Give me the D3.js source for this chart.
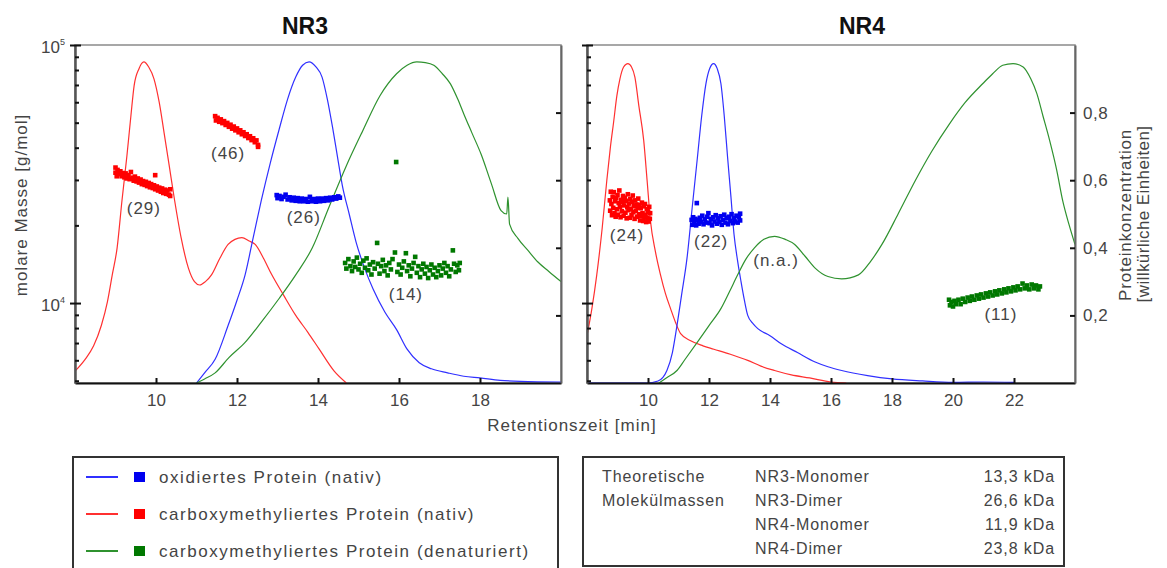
<!DOCTYPE html>
<html>
<head>
<meta charset="utf-8">
<script src="https://cdn.jsdelivr.net/npm/d3@7"></script>
<style>
  body { margin: 0; background: #fff; }
  text { font-family: "Liberation Sans", Arial, sans-serif; }
</style>
</head>
<body>
<script>
// concentration traces [time (min), relative conc.]
let nr3Red = [[8.0,0.035],[8.25,0.07],[8.46,0.11],[8.65,0.17],[8.8,0.24],[8.92,0.32],[9.04,0.40],[9.16,0.54],[9.28,0.67],[9.38,0.79],[9.46,0.88],[9.58,0.93],[9.7,0.95],[9.82,0.935],[9.95,0.90],[10.08,0.83],[10.2,0.74],[10.33,0.64],[10.46,0.54],[10.62,0.43],[10.8,0.34],[10.95,0.30],[11.08,0.29],[11.22,0.30],[11.37,0.32],[11.58,0.37],[11.78,0.41],[11.95,0.425],[12.12,0.43],[12.3,0.42],[12.45,0.41],[12.65,0.37],[12.86,0.32],[13.15,0.26],[13.45,0.20],[13.75,0.15],[14.03,0.10],[14.4,0.035],[14.7,0.0]];
let nr3Blue = [[11.0,0.0],[11.2,0.03],[11.46,0.07],[11.78,0.17],[12.0,0.245],[12.2,0.32],[12.4,0.43],[12.6,0.54],[12.82,0.65],[13.04,0.75],[13.25,0.84],[13.45,0.905],[13.62,0.94],[13.78,0.95],[13.95,0.935],[14.1,0.905],[14.23,0.84],[14.36,0.756],[14.48,0.67],[14.6,0.585],[14.77,0.5],[14.94,0.417],[15.15,0.34],[15.36,0.278],[15.65,0.21],[15.94,0.158],[16.2,0.1],[16.5,0.06],[16.8,0.042],[17.2,0.03],[17.6,0.02],[18.0,0.015],[18.5,0.008],[19.0,0.005],[20.0,0.003]];
let nr3Green = [[11.0,0.0],[11.2,0.012],[11.46,0.03],[11.8,0.075],[12.2,0.12],[12.6,0.18],[13.04,0.25],[13.45,0.32],[13.86,0.40],[14.27,0.52],[14.69,0.64],[15.1,0.745],[15.53,0.85],[15.94,0.915],[16.2,0.94],[16.44,0.95],[16.65,0.948],[16.86,0.94],[17.07,0.915],[17.27,0.885],[17.45,0.84],[17.6,0.796],[17.8,0.74],[18.03,0.676],[18.28,0.59],[18.52,0.51],[18.66,0.50],[18.69,0.55],[18.73,0.47],[18.94,0.427],[19.2,0.39],[19.43,0.358],[19.7,0.33],[20.0,0.30]];

let nr4Red = [[8.0,0.14],[8.16,0.22],[8.32,0.32],[8.5,0.46],[8.65,0.60],[8.77,0.70],[8.87,0.77],[8.98,0.85],[9.08,0.90],[9.2,0.935],[9.34,0.945],[9.46,0.935],[9.57,0.905],[9.7,0.82],[9.86,0.717],[9.97,0.60],[10.08,0.48],[10.24,0.39],[10.41,0.32],[10.57,0.265],[10.74,0.22],[10.9,0.18],[11.07,0.146],[11.4,0.125],[11.8,0.11],[12.16,0.10],[12.7,0.085],[13.27,0.067],[13.7,0.05],[14.15,0.037],[14.7,0.024],[15.3,0.015],[16.0,0.003],[16.5,0.0]];
let nr4Blue = [[8.0,0.0],[9.95,0.0],[10.33,0.006],[10.62,0.037],[10.8,0.09],[10.95,0.17],[11.1,0.26],[11.28,0.37],[11.45,0.52],[11.62,0.667],[11.76,0.79],[11.9,0.886],[12.02,0.93],[12.15,0.945],[12.27,0.93],[12.39,0.886],[12.5,0.79],[12.61,0.667],[12.72,0.55],[12.82,0.44],[12.94,0.36],[13.05,0.30],[13.16,0.245],[13.27,0.20],[13.45,0.175],[13.6,0.161],[14.0,0.14],[14.37,0.116],[14.9,0.09],[15.48,0.062],[15.9,0.048],[16.35,0.037],[17.2,0.022],[18.0,0.012],[19.0,0.006],[20.0,0.002],[21.0,0.003],[22.0,0.002]];
let nr4Green = [[10.36,0.0],[10.6,0.015],[10.95,0.037],[11.2,0.068],[11.62,0.121],[12.0,0.17],[12.39,0.22],[12.67,0.27],[12.94,0.32],[13.2,0.365],[13.49,0.40],[13.8,0.425],[14.15,0.434],[14.5,0.425],[14.81,0.41],[15.15,0.375],[15.48,0.34],[15.9,0.315],[16.35,0.308],[16.9,0.32],[17.3,0.36],[17.67,0.41],[18.2,0.50],[18.77,0.60],[19.3,0.685],[19.88,0.766],[20.4,0.83],[20.98,0.886],[21.3,0.915],[21.63,0.94],[21.97,0.945],[22.3,0.935],[22.55,0.9],[22.75,0.856],[22.95,0.79],[23.17,0.717],[23.4,0.63],[23.6,0.538],[23.8,0.47],[24.0,0.41]];

// molar mass points [time (min), g/mol]
let nr3RedA = [[9.00,33500],[9.00,32000],[9.03,31000],[9.05,32800],[9.08,31600],[9.12,32400],[9.15,31000],[9.18,31900],[9.22,30700],[9.25,31800],[9.28,30400],[9.32,31300],[9.35,30200],[9.38,32200],[9.42,30600],[9.45,29800],[9.48,30900],[9.52,29600],[9.55,30400],[9.58,29300],[9.62,30100],[9.65,28900],[9.68,29700],[9.72,28700],[9.75,29500],[9.78,28400],[9.82,29200],[9.85,28100],[9.88,28900],[9.92,27900],[9.95,28600],[9.98,31300],[9.98,27600],[10.02,28300],[10.05,27300],[10.08,28000],[10.12,27000],[10.15,27800],[10.18,26700],[10.22,27500],[10.25,26500],[10.28,27300],[10.32,26300],[10.35,27600],[10.35,26000]];
let nr3RedB = [[11.46,53000],[11.48,51000],[11.52,52200],[11.56,50400],[11.60,51500],[11.64,49800],[11.68,50700],[11.72,49000],[11.76,49900],[11.80,48200],[11.84,49100],[11.88,47400],[11.92,48300],[11.96,46700],[12.00,47500],[12.04,45900],[12.08,46700],[12.12,45100],[12.16,45900],[12.20,44400],[12.24,45100],[12.28,43600],[12.32,44300],[12.36,42800],[12.40,43500],[12.44,42000],[12.48,42700],[12.52,41000],[12.52,40300]];
let nr3BlueM = [[12.98,26200],[13.00,25500],[13.05,26000],[13.10,25300],[13.15,25800],[13.20,26300],[13.25,25200],[13.30,25700],[13.35,25000],[13.40,25600],[13.45,24900],[13.50,25500],[13.55,24800],[13.60,25400],[13.65,24800],[13.70,25300],[13.75,24700],[13.80,25800],[13.85,24800],[13.90,25300],[13.95,24700],[14.00,25400],[14.05,24800],[14.10,25400],[14.15,24900],[14.20,25500],[14.25,25000],[14.30,25600],[14.35,25200],[14.40,25700],[14.45,25400],[14.50,25900],[14.54,25600]];
let nr3GreenM = [[14.67,14300],[14.70,13600],[14.75,14800],[14.80,13900],[14.84,13300],[14.88,14500],[14.92,13800],[14.96,15000],[15.00,13500],[15.04,14200],[15.08,13100],[15.12,14600],[15.16,13700],[15.20,14900],[15.24,13400],[15.28,14100],[15.32,12900],[15.36,14400],[15.40,13600],[15.46,17100],[15.48,14200],[15.52,13000],[15.56,13900],[15.60,14700],[15.64,13300],[15.68,14000],[15.72,12800],[15.76,14300],[15.80,13500],[15.84,14800],[15.90,15700],[15.93,35200],[15.96,13200],[16.00,14100],[16.04,12900],[16.08,13700],[16.12,14500],[16.17,15600],[16.20,13300],[16.24,14000],[16.28,12700],[16.32,13600],[16.36,14300],[16.40,15100],[16.44,13100],[16.48,13900],[16.52,12600],[16.56,13500],[16.60,14200],[16.64,13000],[16.68,13800],[16.72,12500],[16.76,13400],[16.80,14100],[16.84,12900],[16.88,13700],[16.92,12600],[16.96,13300],[17.00,14000],[17.04,12800],[17.08,13600],[17.12,14300],[17.16,13100],[17.20,13900],[17.24,12700],[17.28,13500],[17.33,16000],[17.36,14200],[17.40,13200],[17.44,14000],[17.48,13400],[17.50,14300]];

let nr4RedM = [[8.75,25000],[8.76,22800],[8.78,27000],[8.80,24200],[8.82,21900],[8.84,25800],[8.86,23400],[8.88,26900],[8.90,22300],[8.92,24800],[8.94,21600],[8.96,25500],[8.98,23100],[9.00,26200],[9.02,22000],[9.04,24400],[9.06,27300],[9.08,23600],[9.10,21500],[9.12,25100],[9.14,22700],[9.16,24600],[9.18,26000],[9.20,21800],[9.22,23900],[9.24,25600],[9.26,22400],[9.28,24900],[9.30,21300],[9.32,23500],[9.34,26400],[9.36,22900],[9.38,24300],[9.40,21400],[9.42,25300],[9.44,23200],[9.46,21900],[9.48,24700],[9.50,26100],[9.52,22500],[9.54,23800],[9.56,21200],[9.58,25000],[9.60,22800],[9.62,24100],[9.64,21600],[9.66,23400],[9.68,25400],[9.70,22100],[9.72,24000],[9.74,20900],[9.76,23300],[9.78,21800],[9.80,24500],[9.82,22300],[9.84,20800],[9.86,23700],[9.88,21500],[9.90,24200],[9.92,22000],[9.94,20600],[9.96,23100],[9.98,21400],[10.00,22600],[10.02,20700],[10.04,23600],[10.06,21200],[10.07,22300]];
let nr4BlueM = [[11.43,21000],[11.45,20100],[11.48,21500],[11.52,20500],[11.55,21200],[11.58,20000],[11.60,24400],[11.62,21000],[11.66,20300],[11.70,21400],[11.74,20600],[11.78,21800],[11.82,20200],[11.86,21100],[11.90,20500],[11.94,21600],[11.98,22300],[12.02,20400],[12.06,21200],[12.10,20000],[12.14,21500],[12.18,20700],[12.22,21900],[12.26,20300],[12.30,21300],[12.34,20600],[12.38,21700],[12.42,20100],[12.46,21000],[12.50,22000],[12.54,20500],[12.58,21400],[12.62,20200],[12.66,21600],[12.70,20800],[12.74,22100],[12.78,20400],[12.82,21300],[12.86,20700],[12.90,21800],[12.94,20500],[12.98,21500],[13.02,22200],[13.02,20900]];
let nr4GreenM = [[19.87,10300],[19.90,9800],[19.95,10100],[20.00,9700],[20.05,10200],[20.10,9900],[20.18,10300],[20.25,9900],[20.32,10400],[20.40,10100],[20.48,10500],[20.55,10200],[20.62,10600],[20.70,10300],[20.78,10700],[20.85,10400],[20.92,10800],[21.00,10500],[21.08,10900],[21.15,10600],[21.22,11000],[21.30,10700],[21.38,11100],[21.45,10800],[21.52,11200],[21.60,10900],[21.68,11300],[21.75,11000],[21.82,11400],[21.90,11100],[21.98,11500],[22.05,11200],[22.12,11600],[22.20,11300],[22.28,11900],[22.35,11400],[22.42,11700],[22.50,11300],[22.58,11800],[22.65,11400],[22.72,11700],[22.80,11300],[22.85,11600]];

// annotations [time, g/mol, text]
let nr3Notes = [[9.70,23300,"(29)"],[11.78,38100,"(46)"],[13.65,21500,"(26)"],[16.17,10800,"(14)"]];
let nr4Notes = [[9.31,18400,"(24)"],[12.07,17400,"(22)"],[14.2,14700,"(n.a.)"],[21.57,9100,"(11)"]];

let nr3Ticks = [10, 12, 14, 16, 18];
let nr4Ticks = [10, 12, 14, 16, 18, 20, 22];
let concTicks = [0.2, 0.4, 0.6, 0.8];
let massMinor = [5000, 6000, 7000, 8000, 9000, 20000, 30000, 40000, 50000, 60000, 70000, 80000, 90000];

let legendNames = ["oxidiertes Protein (nativ)", "carboxymethyliertes Protein (nativ)", "carboxymethyliertes Protein (denaturiert)"];
let massLabels = [["NR3-Monomer", "13,3 kDa"], ["NR3-Dimer", "26,6 kDa"], ["NR4-Monomer", "11,9 kDa"], ["NR4-Dimer", "23,8 kDa"]];

let lineCol = {red: "#ff3030", blue: "#3030ff", green: "#2f922f"};
let dotCol = {red: "#ff0000", blue: "#0000f0", green: "#007800"};
let grey = "#444";

let svg = d3.select('body')
  .append('svg')
  .attr("width", 1167)
  .attr("height", 568);

svg.append("rect").attr("width", 1167).attr("height", 568).attr("fill", "#fff");

let plotTop = 45, plotBottom = 383;
let yMass = d3.scaleLog().domain([4900, 100000]).range([plotBottom, plotTop]);
let yConc = d3.scaleLinear().domain([0, 1]).range([plotBottom, plotTop]);

let panels = [
  {id: "p3", title: "NR3", titleX: 305, x0: 75, x1: 561, tmax: 20, ticks: nr3Ticks,
   lines: [[nr3Red, "red"], [nr3Blue, "blue"], [nr3Green, "green"]],
   dots: [[nr3RedA, "red"], [nr3RedB, "red"], [nr3BlueM, "blue"], [nr3GreenM, "green"]],
   notes: nr3Notes, left: true},
  {id: "p4", title: "NR4", titleX: 862, x0: 587, x1: 1075, tmax: 24, ticks: nr4Ticks,
   lines: [[nr4Red, "red"], [nr4Blue, "blue"], [nr4Green, "green"]],
   dots: [[nr4RedM, "red"], [nr4BlueM, "blue"], [nr4GreenM, "green"]],
   notes: nr4Notes, left: false}
];

panels.forEach(p => {
  let x = d3.scaleLinear().domain([8, p.tmax]).range([p.x0, p.x1]);
  let g = svg.append("g");

  svg.append("clipPath").attr("id", "clip-" + p.id)
    .append("rect").attr("x", p.x0).attr("y", plotTop).attr("width", p.x1 - p.x0).attr("height", plotBottom - plotTop);

  // frame
  g.append("rect")
    .attr("x", p.x0).attr("y", plotTop).attr("width", p.x1 - p.x0).attr("height", plotBottom - plotTop)
    .attr("fill", "none").attr("stroke", "#8a8a8a").attr("stroke-width", 1.5);

  let plot = g.append("g").attr("clip-path", "url(#clip-" + p.id + ")");

  let line = d3.line()
    .x(d => x(d[0]))
    .y(d => yConc(d[1]))
    .curve(d3.curveMonotoneX);

  p.lines.forEach(([data, c]) => {
    plot.append("path")
      .attr("d", line(data))
      .attr("fill", "none")
      .attr("stroke", lineCol[c])
      .attr("stroke-width", 1.2);
  });

  p.dots.forEach(([data, c]) => {
    plot.selectAll(null).data(data).enter()
      .append("rect")
      .attr("x", d => x(d[0]) - 2.3)
      .attr("y", d => yMass(d[1]) - 2.3)
      .attr("width", 4.6).attr("height", 4.6)
      .attr("fill", dotCol[c]);
  });

  g.selectAll(null).data(p.notes).enter()
    .append("text")
    .attr("x", d => x(d[0]))
    .attr("y", d => yMass(d[1]))
    .attr("dy", "0.35em")
    .attr("text-anchor", "middle")
    .attr("font-size", 17).attr("letter-spacing", 1)
    .attr("fill", grey)
    .text(d => d[2]);

  // bottom axis, ticks pointing inward
  let xa = g.append("g").attr("transform", `translate(0,${plotBottom})`)
    .call(d3.axisBottom(x).tickValues(p.ticks).tickSizeInner(-5).tickSizeOuter(0).tickPadding(11).tickFormat(d3.format("d")));
  xa.select(".domain").attr("stroke", "#111").attr("stroke-width", 2);
  xa.selectAll(".tick line").attr("stroke", "#111").attr("stroke-width", 2);
  xa.selectAll("text").attr("font-size", 17).attr("fill", grey).attr("font-family", "Liberation Sans, Arial, sans-serif");

  // left log axis
  let la = g.append("g").attr("transform", `translate(${p.x0},0)`)
    .call(d3.axisLeft(yMass).tickValues(massMinor).tickSizeInner(-4).tickSizeOuter(0).tickFormat(""));
  la.select(".domain").attr("stroke", "#555").attr("stroke-width", 2.5);
  la.selectAll(".tick line").attr("stroke", "#111").attr("stroke-width", 2);
  let lm = g.append("g").attr("transform", `translate(${p.x0},0)`)
    .call(d3.axisLeft(yMass).tickValues([10000, 100000]).tickSize(5).tickFormat(""));
  lm.select(".domain").remove();
  lm.selectAll(".tick line").attr("x2", -5).attr("x1", 6).attr("stroke", "#111").attr("stroke-width", 2);

  // right concentration axis
  let ra = g.append("g").attr("transform", `translate(${p.x1},0)`)
    .call(d3.axisRight(yConc).tickValues(concTicks).tickSizeInner(-5).tickSizeOuter(0).tickPadding(8)
      .tickFormat(p.left ? "" : d => d3.format(".1f")(d).replace(".", ",")));
  ra.select(".domain").attr("stroke", "#666").attr("stroke-width", 2);
  ra.selectAll(".tick line").attr("stroke", "#111").attr("stroke-width", 2);
  ra.selectAll("text").attr("font-size", 17).attr("fill", grey).attr("letter-spacing", 0.5).attr("font-family", "Liberation Sans, Arial, sans-serif");

  if (p.left) {
    [[100000, "5"], [10000, "4"]].forEach(([v, e]) => {
      let t = g.append("text")
        .attr("x", p.x0 - 10).attr("y", yMass(v) + 8)
        .attr("text-anchor", "end").attr("font-size", 17).attr("fill", grey);
      t.append("tspan").text("10");
      t.append("tspan").attr("dy", -8).attr("font-size", 9).text(e);
    });
  }

  svg.append("text")
    .attr("x", p.titleX).attr("y", 34)
    .attr("text-anchor", "middle")
    .attr("font-size", 23).attr("font-weight", "bold").attr("fill", "#111")
    .text(p.title);
});

// axis titles
svg.append("text")
  .attr("transform", "translate(27,205) rotate(-90)")
  .attr("text-anchor", "middle").attr("font-size", 17).attr("letter-spacing", 1).attr("fill", grey)
  .text("molare Masse [g/mol]");

svg.append("text")
  .attr("x", 572).attr("y", 431)
  .attr("text-anchor", "middle").attr("font-size", 17).attr("letter-spacing", 1).attr("fill", grey)
  .text("Retentionszeit [min]");

svg.append("text")
  .attr("transform", "translate(1131,215) rotate(-90)")
  .attr("text-anchor", "middle").attr("font-size", 17).attr("letter-spacing", 0.8).attr("fill", grey)
  .text("Proteinkonzentration");
svg.append("text")
  .attr("transform", "translate(1149,214) rotate(-90)")
  .attr("text-anchor", "middle").attr("font-size", 17).attr("letter-spacing", 0.4).attr("fill", grey)
  .text("[willkürliche Einheiten]");

// legend for series
let leg = svg.append("g");
leg.append("rect")
  .attr("x", 73).attr("y", 457).attr("width", 485).attr("height", 130)
  .attr("fill", "none").attr("stroke", "#333").attr("stroke-width", 2);

let legKeys = ["blue", "red", "green"];
let legY = d3.scalePoint().domain(legendNames).range([477, 551]);
legendNames.forEach((name, i) => {
  let yy = legY(name);
  leg.append("line").attr("x1", 86).attr("x2", 118).attr("y1", yy).attr("y2", yy)
    .attr("stroke", lineCol[legKeys[i]]).attr("stroke-width", 2);
  leg.append("rect").attr("x", 134).attr("y", yy - 5).attr("width", 11).attr("height", 10)
    .attr("fill", dotCol[legKeys[i]]);
  leg.append("text").attr("x", 159).attr("y", yy).attr("dy", "0.35em")
    .attr("font-size", 17).attr("letter-spacing", 1.55).attr("fill", grey)
    .text(name);
});

// theoretical masses box
let mb = svg.append("g");
mb.append("rect")
  .attr("x", 583).attr("y", 457).attr("width", 481).attr("height", 109)
  .attr("fill", "none").attr("stroke", "#333").attr("stroke-width", 2);

let rowY = d3.scalePoint().domain(d3.range(massLabels.length)).range([476, 548]);
["Theoretische", "Molekülmassen"].forEach((s, i) => {
  mb.append("text").attr("x", 602).attr("y", rowY(i)).attr("dy", "0.35em")
    .attr("font-size", 16).attr("letter-spacing", 0.9).attr("fill", grey).text(s);
});
massLabels.forEach((r, i) => {
  mb.append("text").attr("x", 755).attr("y", rowY(i)).attr("dy", "0.35em")
    .attr("font-size", 16).attr("letter-spacing", 0.9).attr("fill", grey).text(r[0]);
  mb.append("text").attr("x", 1055).attr("y", rowY(i)).attr("dy", "0.35em")
    .attr("text-anchor", "end")
    .attr("font-size", 16).attr("letter-spacing", 0.9).attr("fill", grey).text(r[1]);
});
</script>
</body>
</html>
